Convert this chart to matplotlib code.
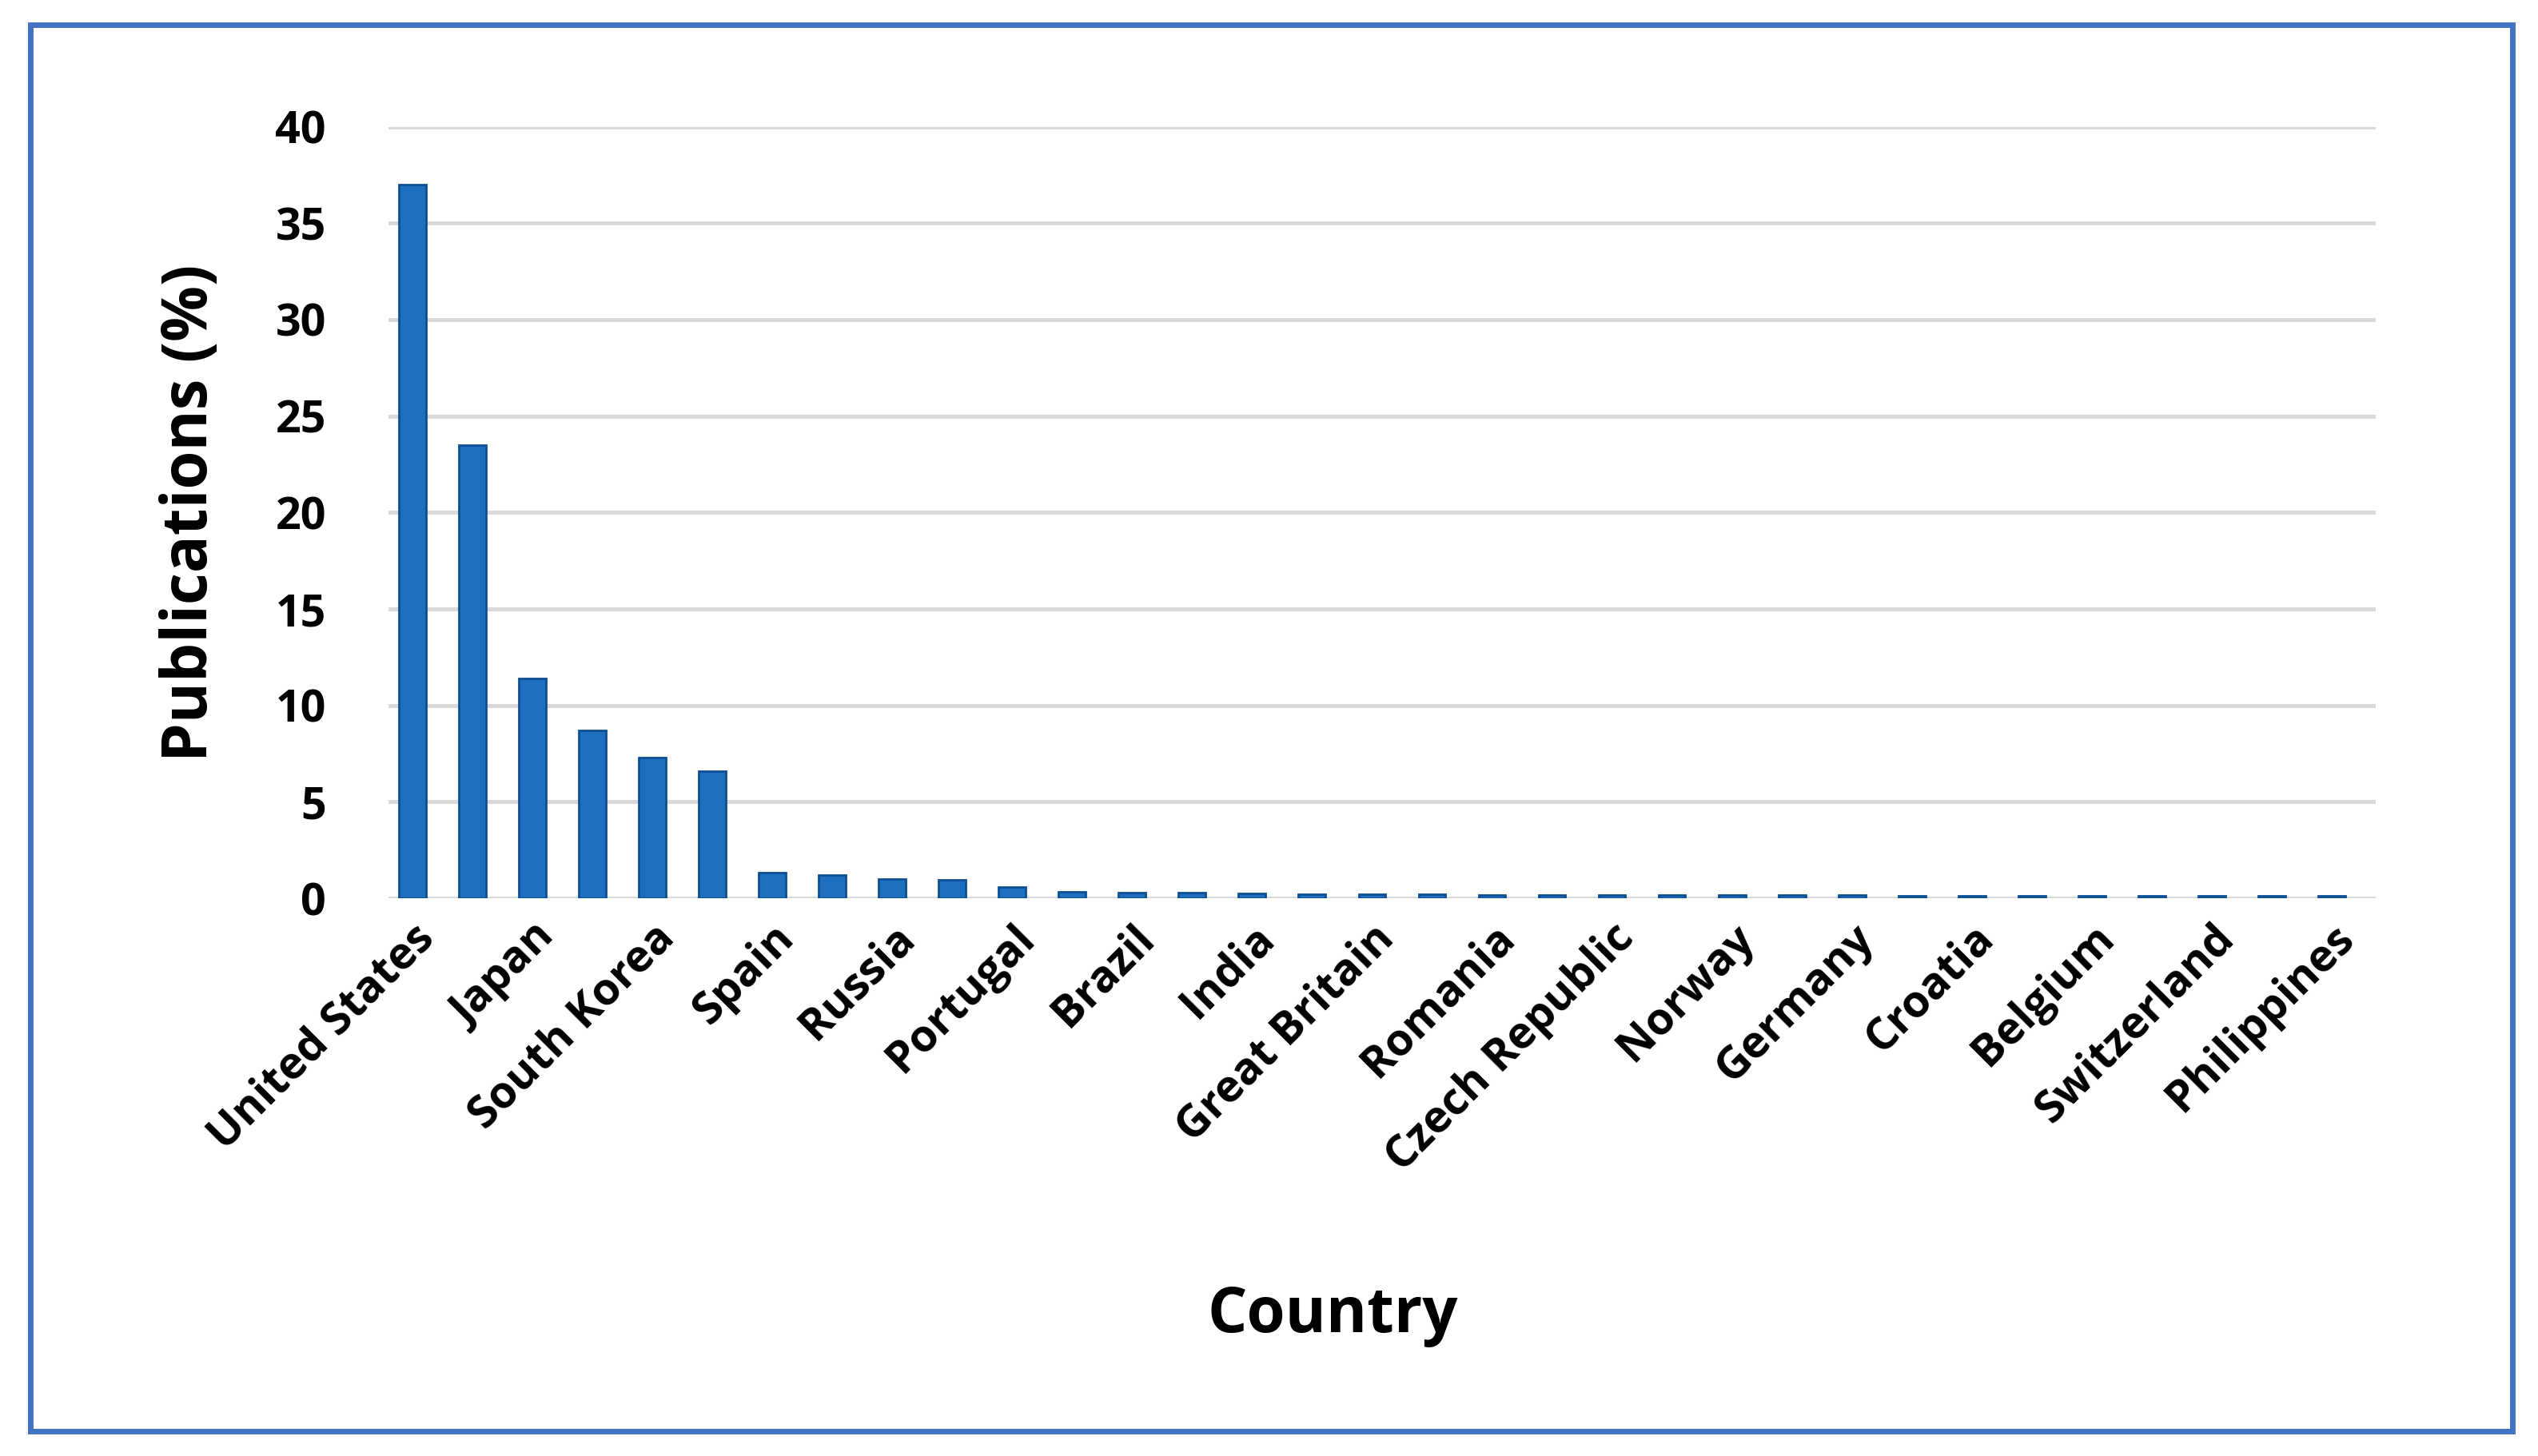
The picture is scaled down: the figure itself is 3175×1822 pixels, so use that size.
import numpy as np
import matplotlib.pyplot as plt
from matplotlib.patches import Rectangle

labels = ["United States", "Japan", "South Korea", "Spain", "Russia", "Portugal", "Brazil",
          "India", "Great Britain", "Romania", "Czech Republic", "Norway", "Germany",
          "Croatia", "Belgium", "Switzerland", "Philippines"]
# 33 bars, only every other one carries a label
values = [37.0, 23.5, 11.4, 8.7, 7.3, 6.6, 1.35, 1.2, 1.0, 0.95, 0.6, 0.35, 0.3, 0.3,
          0.25, 0.22, 0.2, 0.2, 0.18, 0.18, 0.17, 0.17, 0.16, 0.16, 0.16, 0.15, 0.15,
          0.15, 0.15, 0.15, 0.15, 0.15, 0.15]

plt.rcParams['font.family'] = ['Open Sans', 'DejaVu Sans']
plt.rcParams['font.weight'] = 'bold'

fig = plt.figure(figsize=(15.875, 9.11), dpi=200)
ax = fig.add_axes([0.153, 0.383, 0.783, 0.53])

x = np.arange(len(values))
ax.bar(x, values, width=0.45, color="#1f6fc0", edgecolor="#0d4f94", linewidth=1, zorder=3)
ax.set_xlim(-0.4, 32.73)
ax.set_ylim(0, 40)
ax.set_yticks(range(0, 41, 5))
ax.tick_params(axis='y', labelsize=20, length=0, pad=28)
ax.yaxis.grid(True, color="#d9d9d9", linewidth=1.8, zorder=0)
ax.set_xticks(x[::2])
ax.set_xticklabels(labels, rotation=45, ha='right', rotation_mode='anchor', fontsize=20, fontweight='bold')
ax.tick_params(axis='x', length=0, pad=8)
for s in ax.spines.values():
    s.set_visible(False)
ax.axhline(0, color="#d9d9d9", linewidth=1.8, zorder=1)
ax.set_ylabel("Publications (%)", fontsize=28, fontweight='bold', labelpad=24)
fig.text(0.525, 0.085, "Country", fontsize=28, fontweight='bold', ha='center')

fig.patches.append(Rectangle((0.012, 0.017), 0.978, 0.966, transform=fig.transFigure,
                             fill=False, edgecolor="#4472c4", linewidth=2.5))
fig.savefig("out.png")
